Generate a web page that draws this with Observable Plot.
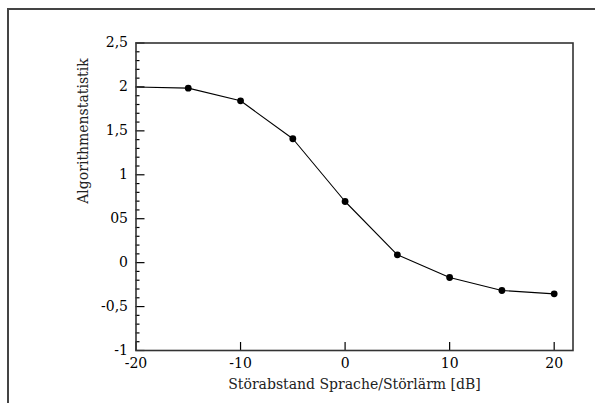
<!DOCTYPE html>
<html>
<head>
<meta charset="utf-8">
<script src="https://cdn.jsdelivr.net/npm/d3@7"></script>
<script src="https://cdn.jsdelivr.net/npm/@observablehq/plot@0.6"></script>
<style>
  html, body { margin: 0; padding: 0; background: #fff; }
  #wrap { position: relative; width: 595px; height: 403px; overflow: hidden; }
  #border { position: absolute; left: 7px; top: 8px; width: 700px; height: 500px;
            border-left: 2px solid #444; border-top: 2px solid #444; }
  #chart { position: absolute; left: 0; top: 0; }
</style>
</head>
<body>
<div id="wrap"><div id="border"></div><div id="chart"></div></div>
<script>
// Data
const snr = [-20, -15, -10, -5, 0, 5, 10, 15, 20];
const stat = [2.0, 1.986, 1.842, 1.41, 0.696, 0.089, -0.169, -0.317, -0.355];
const markerFrom = 1; // first point has no marker in the reference

const xTicks = [-20, -10, 0, 10, 20];
const xTickLabels = ["-20", "-10", "0", "10", "20"];
const yTicks = [-1, -0.5, 0, 0.5, 1, 1.5, 2, 2.5];
const yTickLabels = ["-1", "-0,5", "0", "05", "1", "1,5", "2", "2,5"];
const yMinor = [-0.9, -0.8, -0.7, -0.6, -0.4, -0.3, -0.2, -0.1, 0.1, 0.2, 0.3, 0.4,
                0.6, 0.7, 0.8, 0.9, 1.1, 1.2, 1.3, 1.4, 1.6, 1.7, 1.8, 1.9, 2.1, 2.2, 2.3, 2.4];

const xTitle = "Störabstand Sprache/Störlärm [dB]";
const yTitle = "Algorithmenstatistik";

const points = snr.map((x, i) => ({x, y: stat[i]}));

const W = 595, H = 403;
const mL = 135.5, mR = 22.5, mT = 42.5, mB = 53;
const innerW = W - mL - mR, innerH = H - mT - mB;

const chart = Plot.plot({
  width: W,
  height: H,
  marginLeft: mL,
  marginRight: mR,
  marginTop: mT,
  marginBottom: mB,
  style: {fontFamily: "DejaVu Serif, serif", fontSize: "14px"},
  x: {domain: [-20, 21.8]},
  y: {domain: [-1, 2.5]},
  marks: [
    Plot.axisX(xTicks, {tickSize: 0, tickPadding: 8, tickFormat: (d) => xTickLabels[xTicks.indexOf(d)], label: null}),
    Plot.axisY(yTicks, {tickSize: 0, tickPadding: 8, tickFormat: (d) => yTickLabels[yTicks.indexOf(d)], label: null}),
    Plot.tickY(yTicks, {y: (d) => d, insetRight: innerW - 9, stroke: "#000", strokeWidth: 1.2}),
    Plot.tickY(yMinor, {y: (d) => d, insetRight: innerW - 4, stroke: "#000", strokeWidth: 1.2}),
    Plot.tickX(xTicks, {x: (d) => d, insetTop: innerH - 8, stroke: "#000", strokeWidth: 1.2}),
    Plot.line(points, {x: "x", y: "y", stroke: "#000", strokeWidth: 1.1}),
    Plot.dot(points.slice(markerFrom), {x: "x", y: "y", r: 3.4, fill: "#000"}),
    Plot.frame({stroke: "#333", strokeWidth: 1.6}),
    Plot.text([xTitle], {frameAnchor: "bottom", dy: 34, lineAnchor: "middle", fill: "#222"}),
    Plot.text([yTitle], {frameAnchor: "left", dx: -52, dy: 7, rotate: -90, lineAnchor: "middle", fill: "#222"})
  ]
});
document.getElementById("chart").appendChild(chart);
</script>
</body>
</html>
